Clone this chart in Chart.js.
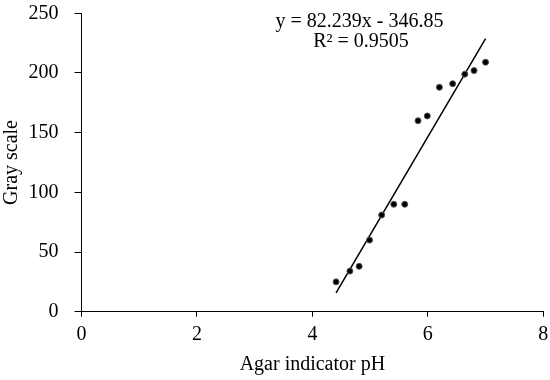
<!DOCTYPE html>
<html>
<head>
<meta charset="utf-8">
<script src="https://cdn.jsdelivr.net/npm/chart.js@4"></script>
<style>
	html, body { margin: 0; padding: 0; background: #fff; }
	#wrap { width: 550px; height: 380px; }
</style>
</head>
<body>
<div id="wrap"><canvas id="chart" width="550" height="380"></canvas></div>
<script>
// Values.
const phValues = [ 4.41, 4.65, 4.81, 4.99, 5.2, 5.41, 5.6, 5.83, 5.99, 6.2, 6.43, 6.64, 6.8, 7.0 ];
const grayValues = [ 25, 34, 38, 60, 81, 90, 90, 160, 164, 188, 191, 199, 202, 209 ];
const xTicks = [ 0, 2, 4, 6, 8 ];
const yTicks = [ 0, 50, 100, 150, 200, 250 ];
const fitSlope = 82.239;
const fitIntercept = -346.85;
const fitLabels = [ 'y = 82.239x - 346.85', 'R\u00b2 = 0.9505' ];

const FONT = '"Liberation Serif", "Times New Roman", serif';

const points = phValues.map( ( x, i ) => ( { x, y: grayValues[ i ] } ) );
const xMin = Math.min( ...phValues );
const xMax = Math.max( ...phValues );
const fitLine = [
	{ x: xMin, y: fitSlope * xMin + fitIntercept },
	{ x: xMax, y: fitSlope * xMax + fitIntercept }
];

// Draws the trendline equation above the line.
const equationPlugin = {
	id: 'equation',
	afterDatasetsDraw( chart ) {
		const { ctx, chartArea } = chart;
		ctx.save();
		ctx.fillStyle = '#000';
		ctx.font = '20px ' + FONT;
		ctx.textAlign = 'center';
		ctx.textBaseline = 'alphabetic';
		ctx.fillText( fitLabels[ 0 ], chartArea.left + 278, chartArea.top + 14 );
		ctx.fillText( fitLabels[ 1 ], chartArea.left + 279.5, chartArea.top + 34 );
		ctx.restore();
	}
};

new Chart( document.getElementById( 'chart' ), {
	type: 'scatter',
	data: {
		datasets: [
			{
				label: 'Gray scale',
				data: points,
				backgroundColor: '#000',
				borderColor: '#555',
				borderWidth: 1,
				pointRadius: 3,
				pointHoverRadius: 3
			},
			{
				label: 'Linear',
				type: 'line',
				data: fitLine,
				borderColor: '#000',
				borderWidth: 1.5,
				pointRadius: 0,
				fill: false
			}
		]
	},
	options: {
		responsive: false,
		animation: false,
		layout: { padding: { top: 13.3, right: 6.7, left: 0, bottom: 0 } },
		plugins: { legend: { display: false }, tooltip: { enabled: false } },
		scales: {
			x: {
				type: 'linear',
				min: 0,
				max: 8,
				afterBuildTicks: ( s ) => { s.ticks = xTicks.map( ( v ) => ( { value: v } ) ); },
				afterFit: ( s ) => {
					s.height = 68.3;
					s.paddingLeft = 0;
					s.paddingRight = 0;
				},
				grid: { display: true, drawOnChartArea: false, tickLength: 5, color: '#000' },
				border: { color: '#000', width: 1 },
				ticks: { color: '#000', font: { family: FONT, size: 20 }, padding: 6 },
				title: {
					display: true,
					text: 'Agar indicator pH',
					color: '#000',
					font: { family: FONT, size: 20 },
					padding: { top: 0, bottom: 3 }
				}
			},
			y: {
				type: 'linear',
				min: 0,
				max: 250,
				afterBuildTicks: ( s ) => { s.ticks = yTicks.map( ( v ) => ( { value: v } ) ); },
				afterFit: ( s ) => {
					s.width = 81.5;
					s.paddingTop = 0;
					s.paddingBottom = 0;
				},
				grid: { display: true, drawOnChartArea: false, tickLength: 7, color: '#000' },
				border: { color: '#000', width: 1 },
				ticks: { color: '#000', font: { family: FONT, size: 20 }, padding: 16 },
				title: {
					display: true,
					text: 'Gray scale',
					color: '#000',
					font: { family: FONT, size: 20 },
					padding: { top: 0, bottom: 0 }
				}
			}
		}
	},
	plugins: [ equationPlugin ]
} );
</script>
</body>
</html>
